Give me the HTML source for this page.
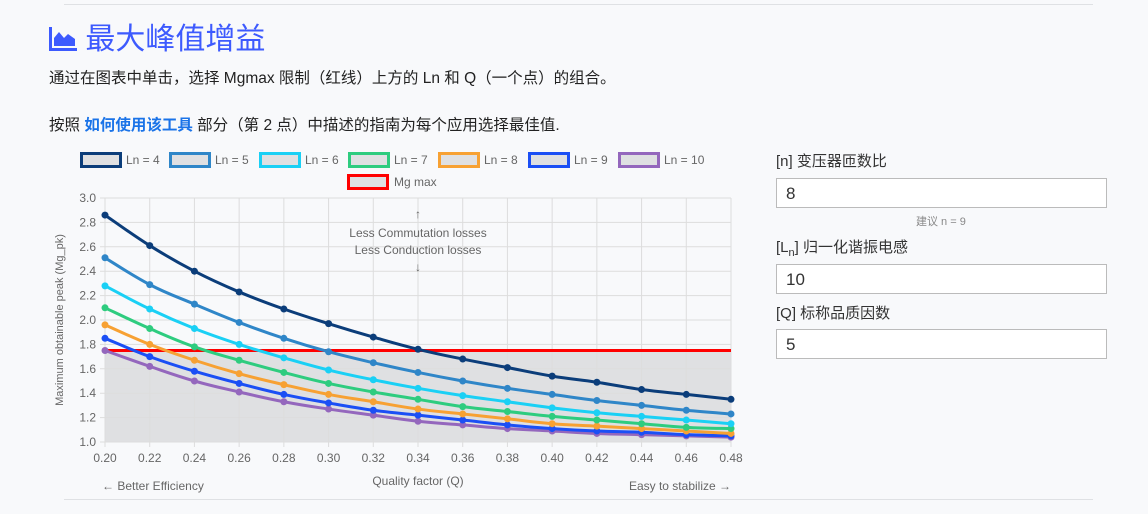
<!DOCTYPE html>
<html><head><meta charset="utf-8">
<style>
body{margin:0;width:1148px;height:514px;background:#f8f9fb;font-family:"Liberation Sans","Noto Sans CJK SC",sans-serif;color:#222;position:relative;overflow:hidden}
.abs{position:absolute}
.hr{position:absolute;left:64px;width:1029px;height:1px;background:#dfe1e4}
.lbl{position:absolute;left:776px;font-size:15px;color:#333}
.inp{position:absolute;left:776px;width:331px;height:30px;border:1px solid #bbb;background:#fff;font-size:17px;line-height:30px;padding-left:9px;box-sizing:border-box;color:#333}
</style></head><body>
<div class="hr" style="top:4px"></div>
<div class="abs" style="left:48px;top:22px;color:#3d5afe;font-size:30px;line-height:36px">
<svg width="29" height="24" viewBox="0 0 29 24" style="vertical-align:-2px"><path d="M1 0v24h28v-3H4V0z M6 19V11l5-6 5 6 4-4 7 5v7z" fill="#3d5afe"/></svg> 最大峰值增益</div>
<div class="abs" style="left:49px;top:66px;font-size:15.5px">通过在图表中单击，选择 Mgmax 限制（红线）上方的 Ln 和 Q（一个点）的组合。</div>
<div class="abs" style="left:49px;top:113px;font-size:15.5px">按照 <b style="color:#1a73e8">如何使用该工具</b> 部分（第 2 点）中描述的指南为每个应用选择最佳值.</div>
<svg class="abs" style="left:0;top:140px" width="760" height="360" id="chart"></svg>
<div class="lbl" style="top:150px">[n] 变压器匝数比</div>
<div class="inp" style="top:178px">8</div>
<div class="abs" style="left:916px;top:213px;font-size:11px;color:#888">建议 n = 9</div>
<div class="lbl" style="top:236px">[L<sub style="font-size:11px">n</sub>] 归一化谐振电感</div>
<div class="inp" style="top:264px">10</div>
<div class="lbl" style="top:302px">[Q] 标称品质因数</div>
<div class="inp" style="top:329px">5</div>
<div class="hr" style="top:499px"></div>
<script>
const qValues=[0.20,0.22,0.24,0.26,0.28,0.30,0.32,0.34,0.36,0.38,0.40,0.42,0.44,0.46,0.48];
const yTicks=[1.0,1.2,1.4,1.6,1.8,2.0,2.2,2.4,2.6,2.8,3.0];
const seriesNames=["Ln = 4","Ln = 5","Ln = 6","Ln = 7","Ln = 8","Ln = 9","Ln = 10"];
const seriesColors=["#0b3d7a","#2f86c8","#1ad0f5","#2ecc7f","#f7a133","#1b4ff5","#9467bd"];
const ln4=[2.86,2.61,2.40,2.23,2.09,1.97,1.86,1.76,1.68,1.61,1.54,1.49,1.43,1.39,1.35];
const ln5=[2.51,2.29,2.13,1.98,1.85,1.74,1.65,1.57,1.50,1.44,1.39,1.34,1.30,1.26,1.23];
const ln6=[2.28,2.09,1.93,1.80,1.69,1.59,1.51,1.44,1.38,1.33,1.28,1.24,1.21,1.18,1.15];
const ln7=[2.10,1.93,1.78,1.67,1.57,1.48,1.41,1.35,1.29,1.25,1.21,1.18,1.15,1.12,1.11];
const ln8=[1.96,1.80,1.67,1.56,1.47,1.39,1.33,1.27,1.23,1.19,1.15,1.13,1.11,1.09,1.07];
const ln9=[1.85,1.70,1.58,1.48,1.39,1.32,1.26,1.22,1.18,1.14,1.11,1.09,1.08,1.06,1.05];
const ln10=[1.75,1.62,1.50,1.41,1.33,1.27,1.22,1.17,1.14,1.11,1.09,1.07,1.06,1.05,1.04];
const mgMax=1.75;
const series=[ln4,ln5,ln6,ln7,ln8,ln9,ln10];
const NS="http://www.w3.org/2000/svg",svg=document.getElementById('chart');
const X0=105,X1=731,Y0=302,Y1=58; // local coords (top offset 140)
const xs=v=>X0+(v-0.20)/(0.48-0.20)*(X1-X0);
const ys=v=>Y0-(v-1.0)/(3.0-1.0)*(Y0-Y1);
function el(t,a,p){const e=document.createElementNS(NS,t);for(const k in a)e.setAttribute(k,a[k]);(p||svg).appendChild(e);return e;}
function txt(s,a){const e=el('text',Object.assign({'font-family':'Liberation Sans, sans-serif','font-size':12,fill:'#666'},a));e.textContent=s;return e;}
// mg fill
const fill=el('rect',{x:X0,y:ys(mgMax),width:X1-X0,height:ys(1.0)-ys(mgMax),fill:'#dfe0e2'});


// grid
yTicks.forEach(t=>{const g=el('line',{x1:X0-5,x2:X1,y1:ys(t),y2:ys(t),stroke:'#ddd'});


const l=txt(t.toFixed(1),{x:X0-9,y:ys(t)+4,'text-anchor':'end'});

});
qValues.forEach(q=>{const g=el('line',{x1:xs(q),x2:xs(q),y1:Y1,y2:Y0+5,stroke:'#ddd'});


const l=txt(q.toFixed(2),{x:xs(q),y:Y0+20,'text-anchor':'middle'});

});
// mg line
const mg=el('line',{x1:X0,x2:X1,y1:ys(mgMax),y2:ys(mgMax),stroke:'#ff0000','stroke-width':3});


function smooth(p){let d=`M${p[0][0]},${p[0][1]}`;for(let i=0;i<p.length-1;i++){const a=p[i-1]||p[i],b=p[i],c=p[i+1],e=p[i+2]||c,k=0.2;d+=` C${b[0]+(c[0]-a[0])*k},${b[1]+(c[1]-a[1])*k} ${c[0]-(e[0]-b[0])*k},${c[1]-(e[1]-b[1])*k} ${c[0]},${c[1]}`;}return d;}
for(let s=series.length-1;s>=0;s--){const pts=series[s].map((v,i)=>[xs(qValues[i]),ys(v)]);
const p=el('path',{d:smooth(pts),fill:'none',stroke:seriesColors[s],'stroke-width':3});


pts.forEach(pt=>{const c=el('circle',{cx:pt[0],cy:pt[1],r:3.5,fill:seriesColors[s]});

});}
// legend
const legX=[80,169,259,348,438,528,618];
seriesNames.forEach((n,i)=>{const r=el('rect',{x:legX[i]+1.5,y:13.5,width:39,height:13,fill:'#dfe0e2',stroke:seriesColors[i],'stroke-width':3});


const t=txt(n,{x:legX[i]+46,y:24});

});
const mr=el('rect',{x:348.5,y:35.5,width:39,height:13,fill:'#dfe0e2',stroke:'#ff0000','stroke-width':3});


const mt=txt('Mg max',{x:394,y:46});


// annotations
[['↑',78],['Less Commutation losses',97],['Less Conduction losses',114],['↓',131]].forEach(a=>{const t=txt(a[0],{x:418,y:a[1],'text-anchor':'middle'});

});
const xt=txt('Quality factor (Q)',{x:418,y:345,'text-anchor':'middle'});


const yt=txt('Maximum obtainable peak (Mg_pk)',{x:0,y:0,'text-anchor':'middle','font-size':11,transform:`translate(63,${(Y0+Y1)/2}) rotate(-90)`});


const bl=txt('← Better Efficiency',{x:102,y:350});


const br=txt('Easy to stabilize →',{x:731,y:350,'text-anchor':'end'});


</script>
</body></html>
